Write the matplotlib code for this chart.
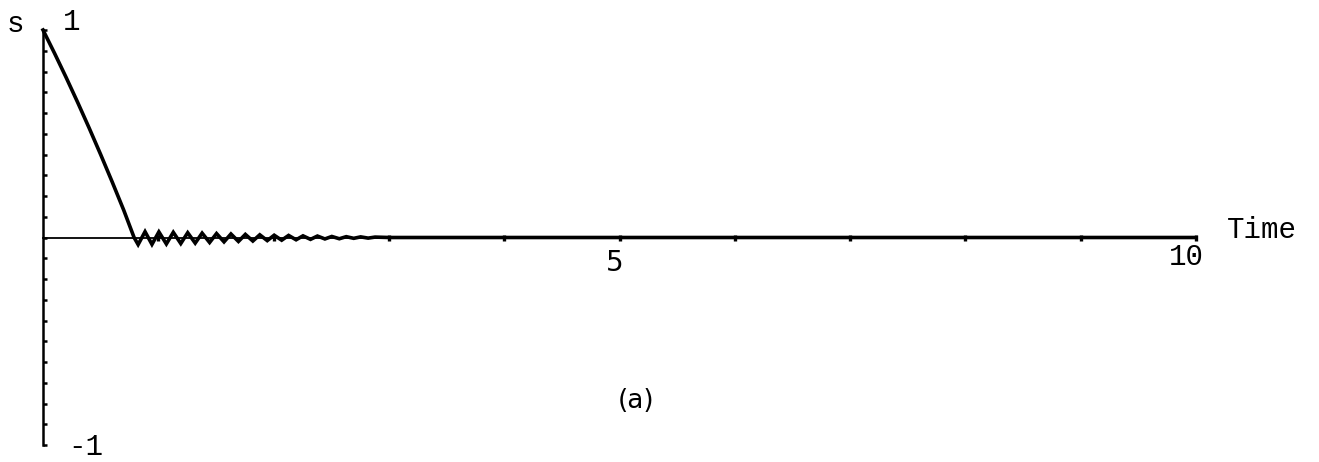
import matplotlib
matplotlib.use("Agg")
import matplotlib.pyplot as plt
from matplotlib.ticker import MultipleLocator, FixedLocator, NullFormatter

# Sliding variable s(t): reaching phase, then chattering about s = 0
t_reach = [0.0, 0.1, 0.2, 0.3, 0.4, 0.5, 0.6, 0.7, 0.79]
s_reach = [1.0, 0.888, 0.772, 0.652, 0.528, 0.400, 0.268, 0.132, 0.0]

t_chatter = [0.825, 0.885, 0.945, 1.005, 1.07, 1.13, 1.195, 1.255, 1.32, 1.38,
             1.445, 1.505, 1.57, 1.63, 1.695, 1.755, 1.82, 1.88, 1.945, 2.005,
             2.07, 2.13, 2.195, 2.255, 2.32, 2.38, 2.445, 2.505, 2.57, 2.63,
             2.695, 2.755, 2.82, 2.88]
s_chatter = [-0.034, 0.028, -0.033, 0.027, -0.031, 0.025, -0.029, 0.023, -0.027, 0.021,
             -0.024, 0.019, -0.021, 0.017, -0.019, 0.015, -0.017, 0.013, -0.015, 0.011,
             -0.013, 0.010, -0.011, 0.008, -0.009, 0.007, -0.007, 0.005, -0.006, 0.004,
             -0.004, 0.003, -0.003, 0.002]

t_settled = [3.0, 10.0]
s_settled = [0.0, 0.0]

t_all = t_reach + t_chatter + t_settled
s_all = s_reach + s_chatter + s_settled

x_tick_positions = [1, 2, 3, 4, 5, 6, 7, 8, 9, 10]
x_tick_labels = {5: "5", 10: "10"}

mono = "Liberation Mono"
sans = "DejaVu Sans"

fig = plt.figure(figsize=(13.19, 4.62), dpi=100)
ax = fig.add_axes([43 / 1319, (462 - 445) / 462, (1196 - 43) / 1319, (445 - 30) / 462])
ax.set_xlim(0, 10)
ax.set_ylim(-1, 1)

ax.plot(t_all, s_all, color="black", lw=2.6, solid_joinstyle="miter", clip_on=False, zorder=3)

for side in ("top", "right"):
    ax.spines[side].set_visible(False)
ax.spines["left"].set_position(("data", 0))
ax.spines["bottom"].set_position(("data", 0))
ax.spines["left"].set_linewidth(1.8)
ax.spines["bottom"].set_linewidth(1.3)

ax.yaxis.set_major_locator(MultipleLocator(0.1))
ax.yaxis.set_major_formatter(NullFormatter())
ax.tick_params(axis="y", direction="in", length=3, width=1.8, color="black")
ax.xaxis.set_major_locator(FixedLocator(x_tick_positions))
ax.xaxis.set_major_formatter(NullFormatter())
ax.tick_params(axis="x", direction="inout", length=4, width=2.4, color="black")

# Axis annotations
ax.text(-0.243, 0.99, "s", fontsize=21, family=mono, ha="center", va="baseline")
ax.text(0.25, 1.0, "1", fontsize=21, family=mono, ha="center", va="baseline")
ax.text(0.37, -1.05, "-1", fontsize=21, family=mono, ha="center", va="baseline")
ax.text(4.96, -0.16, x_tick_labels[5], fontsize=20, family=sans, ha="center", va="baseline")
ax.text(9.92, -0.133, x_tick_labels[10], fontsize=21, family=mono, ha="center", va="baseline")
ax.text(10.27, 0.0, "Time", fontsize=21, family=mono, ha="left", va="baseline")
ax.text(5.14, -0.79, "(a)", fontsize=19, family=sans, ha="center", va="center")

fig.savefig("out.png", dpi=100)
